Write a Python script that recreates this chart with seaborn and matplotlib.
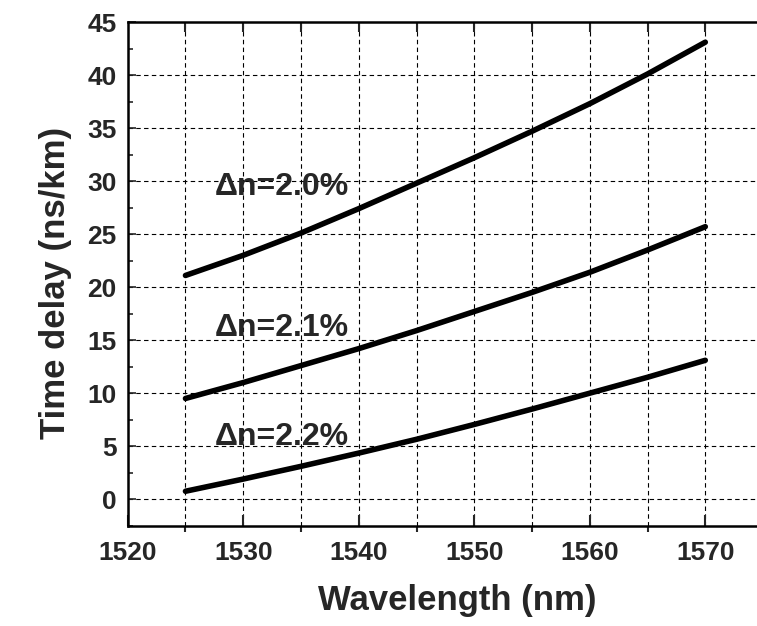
import pandas as pd
import matplotlib.pyplot as plt
import seaborn as sns
from matplotlib.ticker import MultipleLocator

# Data
wavelength = [1525, 1530, 1535, 1540, 1545, 1550, 1555, 1560, 1565, 1570]
delay_20 = [21.1, 23.0, 25.1, 27.4, 29.8, 32.2, 34.7, 37.3, 40.1, 43.1]
delay_21 = [9.5, 11.0, 12.6, 14.2, 15.9, 17.7, 19.5, 21.4, 23.5, 25.7]
delay_22 = [0.75, 1.9, 3.1, 4.35, 5.65, 7.05, 8.5, 10.0, 11.5, 13.1]

series_labels = ["Δn=2.0%", "Δn=2.1%", "Δn=2.2%"]
label_pos = [(1527.5, 29.4), (1527.5, 16.1), (1527.5, 5.9)]

x_ticks = [1520, 1530, 1540, 1550, 1560, 1570]
y_ticks = [0, 5, 10, 15, 20, 25, 30, 35, 40, 45]

sns.set_style("white")
plt.rcParams["font.family"] = ["Liberation Sans", "DejaVu Sans"]
plt.rcParams["font.weight"] = "bold"

rows = []
for lab, ys in zip(series_labels, [delay_20, delay_21, delay_22]):
    for x, y in zip(wavelength, ys):
        rows.append({"Wavelength": x, "Delay": y, "Series": lab})
df = pd.DataFrame(rows)

fig = plt.figure(figsize=(7.57, 6.26), dpi=100)
ax = fig.add_axes([0.1687, 0.1602, 0.8393, 0.8046])

sns.lineplot(data=df, x="Wavelength", y="Delay", hue="Series",
             palette=["black"] * 3, linewidth=4, legend=False, ax=ax,
             solid_capstyle="round", solid_joinstyle="round")

ax.set_xlim(1520, 1575)
ax.set_ylim(-2.5, 45)

# grid on every 5 units
ax.xaxis.set_minor_locator(MultipleLocator(5))
ax.yaxis.set_minor_locator(MultipleLocator(2.5))
ax.set_xticks(x_ticks)
ax.set_yticks(y_ticks)
for gx in range(1525, 1575, 5):
    ax.axvline(gx, color="black", lw=0.8, ls=(0, (4, 3)), zorder=0)
for gy in range(0, 45, 5):
    ax.axhline(gy, color="black", lw=0.8, ls=(0, (4, 3)), zorder=0)

tick_font = {"weight": "bold", "size": 19}
ax.set_xticklabels([str(t) for t in x_ticks], fontdict=tick_font)
ax.set_yticklabels([str(t) for t in y_ticks], fontdict=tick_font)

ax.tick_params(axis="x", which="major", direction="in", length=8, width=1.5,
               pad=11, bottom=True)
ax.tick_params(axis="x", which="minor", direction="out", length=4.5, width=1.5,
               bottom=True)
ax.tick_params(axis="y", which="major", direction="in", length=6, width=1.2,
               pad=8, left=True)
ax.tick_params(axis="y", which="minor", direction="in", length=3.5, width=1.2,
               left=True)

top = ax.secondary_xaxis("top")
top.set_xticks(list(range(1525, 1575, 5)))
top.set_xticklabels([])
top.tick_params(direction="in", length=7.5, width=1.5)
top.spines["top"].set_visible(False)

for side in ["left", "bottom", "top"]:
    ax.spines[side].set_linewidth(1.8)
    ax.spines[side].set_color("black")
ax.spines["right"].set_visible(False)

for lab, (tx, ty) in zip(series_labels, label_pos):
    ax.text(tx, ty, lab, fontsize=23, fontweight="bold", va="center", ha="left")

ax.set_xlabel("Wavelength (nm)", fontsize=25, fontweight="bold")
ax.set_ylabel("Time delay (ns/km)", fontsize=25, fontweight="bold")
ax.xaxis.set_label_coords(0.518, -0.115)
ax.yaxis.set_label_coords(-0.088, 0.482)

fig.savefig("out.png", dpi=100)
